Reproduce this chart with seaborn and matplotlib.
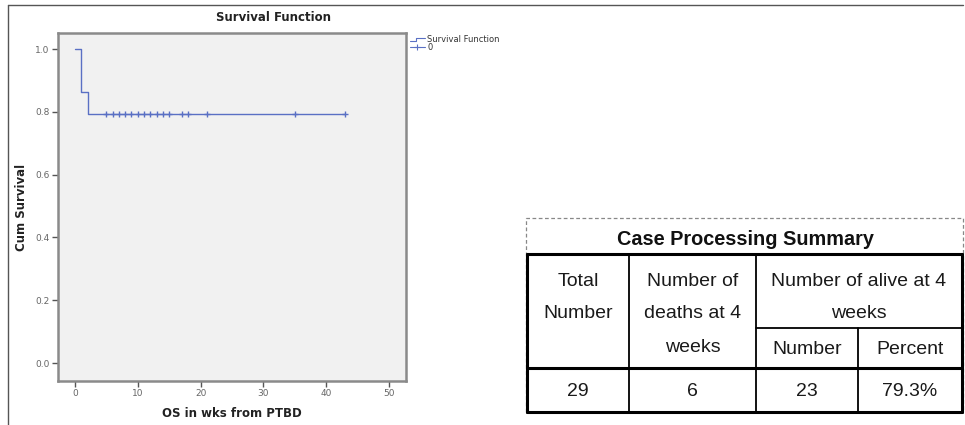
import matplotlib
matplotlib.use("Agg")
import matplotlib.pyplot as plt
import seaborn as sns
import pandas as pd

# ---- data ----
step_times = [0, 1, 2, 43]
step_surv = [1.0, 0.862, 0.793, 0.793]
censor_times = [5, 6, 7, 8, 9, 10, 11, 12, 13, 14, 15, 17, 18, 21, 35, 43]
censor_surv = [0.793] * len(censor_times)
x_ticks = [0, 10, 20, 30, 40, 50]
y_ticks = [0.0, 0.2, 0.4, 0.6, 0.8, 1.0]

table_title = "Case Processing Summary"
col_heads = ["Total\nNumber", "Number of\ndeaths at 4\nweeks", "Number of alive at 4\nweeks"]
sub_heads = ["Number", "Percent"]
row_values = ["29", "6", "23", "79.3%"]

sns.set_theme(style="white")
plt.rcParams['font.family'] = ['DejaVu Sans']

W, H = 965, 425
fig = plt.figure(figsize=(W / 100, H / 100), dpi=100)
fig.patch.set_facecolor("white")

# ---- survival chart ----
ax = fig.add_axes([58 / W, 1 - 381 / H, (406 - 58) / W, (381 - 33) / H])
ax.set_facecolor("#f1f1f1")
blue = "#5a70c4"
step_df = pd.DataFrame({"t": step_times, "s": step_surv})
cens_df = pd.DataFrame({"t": censor_times, "s": censor_surv})
sns.lineplot(data=step_df, x="t", y="s", drawstyle="steps-post", color=blue,
             linewidth=1.0, ax=ax, estimator=None, sort=False)
sns.scatterplot(data=cens_df, x="t", y="s", marker="+", color=blue, s=18,
                linewidth=1.0, ax=ax)
ax.set_xlim(-2.7, 52.7)
ax.set_ylim(-0.057, 1.051)
ax.set_xticks(x_ticks)
ax.set_xticklabels([str(v) for v in x_ticks])
ax.set_yticks(y_ticks)
ax.set_yticklabels([f"{v:.1f}" for v in y_ticks])
ax.tick_params(axis="both", which="both", direction="out", length=4, width=1,
               color="#555555", labelsize=6.5, labelcolor="#666666", pad=2,
               bottom=True, left=True)
for sp in ax.spines.values():
    sp.set_color("#8a8a8a")
    sp.set_linewidth(1.8)
ax.set_xlabel("OS in wks from PTBD", fontsize=8.5, fontweight="bold", color="#222222", labelpad=6)
ax.set_ylabel("Cum Survival", fontsize=8.5, fontweight="bold", color="#222222", labelpad=5)

# overlay axes in pixel coordinates
ov = fig.add_axes([0, 0, 1, 1], facecolor="none")
ov.set_xlim(0, W)
ov.set_ylim(H, 0)
ov.axis("off")

# outer frame
ov.plot([8, 963], [5, 5], color="#555555", lw=1.0)
ov.plot([8, 8], [5, 425], color="#555555", lw=1.0)

ov.text(274, 17, "Survival Function", ha="center", va="center", fontsize=8.5,
        fontweight="bold", color="#222222")

# legend
ov.plot([410, 416, 416, 425], [41, 41, 38, 38], color=blue, lw=0.8)
ov.text(427, 39, "Survival Function", ha="left", va="center", fontsize=6, color="#333333")
ov.plot([410, 425], [47, 47], color=blue, lw=0.8)
ov.plot([417], [47], marker="+", color=blue, ms=4, mew=0.8)
ov.text(427, 47, "0", ha="left", va="center", fontsize=6, color="#333333")

# ---- table ----
tf = ["Liberation Sans", "DejaVu Sans"]
# dashed box
ov.plot([526, 526, 963, 963], [412, 218, 218, 412], color="#888888", lw=0.9, ls=(0, (3, 2)))
ov.text(745, 239, table_title, ha="center", va="center", fontsize=14.3,
        fontweight="bold", family=tf, color="#111111")

xs = [527, 629, 756, 858, 962]
y_top, y_sub, y_mid, y_bot = 254, 328, 368, 412
lw_out = 2.2
ov.plot([xs[0], xs[-1]], [y_top, y_top], color="black", lw=lw_out)
ov.plot([xs[0], xs[-1]], [y_bot, y_bot], color="black", lw=lw_out)
ov.plot([xs[0], xs[-1]], [y_mid, y_mid], color="black", lw=lw_out)
ov.plot([xs[0], xs[0]], [y_top, y_bot], color="black", lw=lw_out)
ov.plot([xs[-1], xs[-1]], [y_top, y_bot], color="black", lw=lw_out)
ov.plot([xs[1], xs[1]], [y_top, y_bot], color="black", lw=1.3)
ov.plot([xs[2], xs[2]], [y_top, y_bot], color="black", lw=1.3)
ov.plot([xs[3], xs[3]], [y_sub, y_bot], color="black", lw=1.3)
ov.plot([xs[2], xs[-1]], [y_sub, y_sub], color="black", lw=1.3)

fs = 14
line_ys = [282, 314, 348]
for i, head in enumerate(col_heads):
    parts = head.split("\n")
    if i == 2:
        cx = (xs[2] + xs[4]) / 2
    else:
        cx = (xs[i] + xs[i + 1]) / 2
    for j, p in enumerate(parts):
        ov.text(cx, line_ys[j], p, ha="center", va="center", fontsize=fs,
                family=tf, color="#1a1a1a")
for k, sh in enumerate(sub_heads):
    cx = (xs[2 + k] + xs[3 + k]) / 2
    ov.text(cx, 350, sh, ha="center", va="center", fontsize=fs, family=tf, color="#1a1a1a")
for k, v in enumerate(row_values):
    cx = (xs[k] + xs[k + 1]) / 2
    ov.text(cx, 392, v, ha="center", va="center", fontsize=fs, family=tf, color="#1a1a1a")

fig.savefig("out.png", dpi=100, facecolor="white")
